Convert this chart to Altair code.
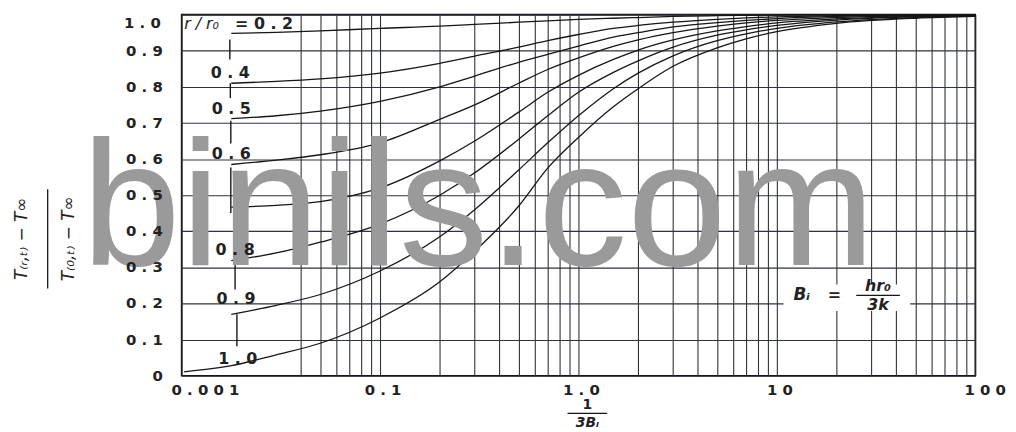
import altair as alt
import pandas as pd

# ---------------- values ----------------
# x is 1/(3 Bi) on a log axis, y is the temperature ratio
X_START = [0.0178, 0.03, 0.05, 0.1, 0.2, 0.3, 0.5, 0.7, 1.0, 1.5, 2.0, 3.0, 5.0, 7.0, 10.0, 20.0, 50.0, 100.0]
X_EDGE = [0.0103, 0.0178, 0.03, 0.05, 0.1, 0.2, 0.3, 0.5, 0.7, 1.0, 1.5, 2.0, 3.0, 5.0, 7.0, 10.0, 20.0, 50.0, 100.0]

R_02 = [0.948, 0.951, 0.955, 0.962, 0.968, 0.973, 0.979, 0.983, 0.987, 0.990, 0.992, 0.995, 0.997, 0.998, 0.999, 1.0, 1.0, 1.0]
R_04 = [0.810, 0.815, 0.822, 0.838, 0.865, 0.885, 0.910, 0.928, 0.945, 0.962, 0.970, 0.979, 0.987, 0.991, 0.994, 0.997, 0.999, 1.0]
R_05 = [0.712, 0.720, 0.733, 0.760, 0.800, 0.830, 0.868, 0.890, 0.913, 0.938, 0.950, 0.966, 0.978, 0.984, 0.989, 0.995, 0.998, 0.999]
R_06 = [0.585, 0.597, 0.612, 0.645, 0.710, 0.750, 0.810, 0.848, 0.880, 0.912, 0.930, 0.950, 0.968, 0.977, 0.984, 0.992, 0.997, 0.999]
R_07 = [0.467, 0.472, 0.482, 0.520, 0.595, 0.650, 0.730, 0.785, 0.832, 0.876, 0.902, 0.930, 0.955, 0.967, 0.977, 0.988, 0.995, 0.998]
R_08 = [0.319, 0.340, 0.370, 0.420, 0.500, 0.562, 0.655, 0.720, 0.785, 0.840, 0.872, 0.910, 0.943, 0.958, 0.970, 0.985, 0.994, 0.997]
R_09 = [0.170, 0.195, 0.225, 0.290, 0.385, 0.460, 0.570, 0.645, 0.720, 0.795, 0.838, 0.886, 0.928, 0.947, 0.962, 0.980, 0.992, 0.996]
R_10 = [0.011, 0.028, 0.058, 0.090, 0.160, 0.260, 0.345, 0.470, 0.575, 0.660, 0.745, 0.795, 0.857, 0.908, 0.933, 0.953, 0.976, 0.990, 0.995]

SERIES_NAMES = ["0.2", "0.4", "0.5", "0.6", "0.7", "0.8", "0.9", "1.0"]
SERIES_X = [X_START, X_START, X_START, X_START, X_START, X_START, X_START, X_EDGE]
SERIES_Y = [R_02, R_04, R_05, R_06, R_07, R_08, R_09, R_10]

X_GRID = [0.01, 0.04, 0.05, 0.06, 0.07, 0.08, 0.09,
          0.1, 0.2, 0.3, 0.4, 0.5, 0.6, 0.7, 0.8, 0.9,
          1, 2, 3, 4, 5, 6, 7, 8, 9,
          10, 20, 30, 40, 50, 60, 70, 80, 90, 100]
X_TICKS = [0.01, 0.1, 1, 10, 100]
X_TICK_LABELS = ["0.001", "0.1", "1.0", "10", "100"]
Y_TICKS = [0, 0.1, 0.2, 0.3, 0.4, 0.5, 0.6, 0.7, 0.8, 0.9, 1.0]
Y_TICK_LABELS = ["0", "0.1", "0.2", "0.3", "0.4", "0.5", "0.6", "0.7", "0.8", "0.9", "1.0"]

CURVE_LABELS = ["0.4", "0.5", "0.6", "0.8", "0.9", "1.0"]
CURVE_LABEL_X = [0.0176, 0.0178, 0.0178, 0.0186, 0.0188, 0.0192]
CURVE_LABEL_Y = [0.838, 0.739, 0.613, 0.349, 0.212, 0.047]

LEADER_X = [0.0175, 0.0176, 0.0177, 0.0177, 0.0186, 0.0190]
LEADER_Y1 = [0.931, 0.810, 0.706, 0.577, 0.319, 0.170]
LEADER_Y2 = [0.876, 0.769, 0.643, 0.451, 0.239, 0.082]

MASK_X = [10.8, 47.0]
MASK_Y = [0.179, 0.253]

TOP_LABEL_R = "r / r\u2080"
TOP_LABEL_V = "= 0.2"
TOP_LABEL_X = [0.0103, 0.0186]
TOP_LABEL_Y = 0.975

WATERMARK = "binils.com"

# ---------------- helpers ----------------
def spaced(s, sp=" "):
    return sp.join(list(s))

rows = []
for name, xs, ys in zip(SERIES_NAMES, SERIES_X, SERIES_Y):
    for xv, yv in zip(xs, ys):
        rows.append({"r": name, "x": xv, "y": yv})
curves_df = pd.DataFrame(rows)

FONT = "DejaVu Sans"
GRID_COLOR = "#2e323c"
INK = "#161616"
LABEL_INK = "#222222"

x_scale = alt.Scale(type="log", domain=[0.01, 100], nice=False)
y_scale = alt.Scale(domain=[0, 1], nice=False, zero=False)

x_axis = alt.Axis(values=X_GRID, labels=False, title=None, grid=True, ticks=False, domain=False,
                  gridColor=GRID_COLOR, gridWidth=1.1, gridOpacity=1)
y_axis = alt.Axis(values=Y_TICKS, labels=False, title=None, grid=True, ticks=False, domain=False,
                  gridColor=GRID_COLOR, gridWidth=1.1, gridOpacity=1)


def X(field="x"):
    return alt.X(f"{field}:Q", scale=x_scale, axis=x_axis)


def Y(field="y"):
    return alt.Y(f"{field}:Q", scale=y_scale, axis=y_axis)


curves = alt.Chart(curves_df).mark_line(
    color=INK, strokeWidth=1.3, interpolate="monotone"
).encode(x=X(), y=Y(), detail="r:N")

mask = alt.Chart(pd.DataFrame({"x": [MASK_X[0]], "x2": [MASK_X[1]],
                               "y": [MASK_Y[0]], "y2": [MASK_Y[1]]})).mark_rect(
    fill="white"
).encode(x=X(), x2="x2:Q", y=Y(), y2="y2:Q")

leaders = alt.Chart(pd.DataFrame({"x": LEADER_X, "y": LEADER_Y1, "y2": LEADER_Y2})).mark_rule(
    color=INK, strokeWidth=1.4
).encode(x=X(), y=Y(), y2="y2:Q")

labels_df = pd.DataFrame({"x": CURVE_LABEL_X, "y": CURVE_LABEL_Y,
                          "t": [spaced(s) for s in CURVE_LABELS]})
curve_labels = alt.Chart(labels_df).mark_text(
    font=FONT, fontSize=16, fontWeight="bold", color=LABEL_INK, align="center", baseline="middle"
).encode(x=X(), y=Y(), text="t:N")

top_r = alt.Chart(pd.DataFrame({"x": [TOP_LABEL_X[0]], "y": [TOP_LABEL_Y], "t": [TOP_LABEL_R]})).mark_text(
    font=FONT, fontSize=16, fontStyle="italic", color=LABEL_INK, align="left", baseline="middle"
).encode(x=X(), y=Y(), text="t:N")
top_v = alt.Chart(pd.DataFrame({"x": [TOP_LABEL_X[1]], "y": [TOP_LABEL_Y],
                                "t": ["= " + spaced("0.2")]})).mark_text(
    font=FONT, fontSize=16, fontWeight="bold", color=LABEL_INK, align="left", baseline="middle"
).encode(x=X(), y=Y(), text="t:N")

# axis tick labels (drawn as text so they can follow the reference's placement)
xl_df = pd.DataFrame({"x": X_TICKS, "t": [spaced(s) for s in X_TICK_LABELS]})
x_lab_style = dict(font=FONT, fontSize=15, fontWeight="bold", color=LABEL_INK, baseline="middle")
x_first = alt.Chart(xl_df.iloc[[0]]).mark_text(align="center", dx=24, **x_lab_style).encode(
    x=X(), y=alt.value(378), text="t:N")
x_mid = alt.Chart(xl_df.iloc[1:4]).mark_text(align="center", dx=3, **x_lab_style).encode(
    x=X(), y=alt.value(378), text="t:N")
x_last = alt.Chart(xl_df.iloc[[4]]).mark_text(align="center", dx=10, **x_lab_style).encode(
    x=X(), y=alt.value(378), text="t:N")

yl_df = pd.DataFrame({"y": Y_TICKS, "t": [spaced(s) for s in Y_TICK_LABELS]})
y_lab_style = dict(font=FONT, fontSize=15, fontWeight="bold", color=LABEL_INK, align="right")
y_low = alt.Chart(yl_df.iloc[:-1]).mark_text(baseline="middle", **y_lab_style).encode(
    x=alt.value(-19), y=Y(), text="t:N")
y_top = alt.Chart(yl_df.iloc[[-1]]).mark_text(baseline="top", dy=1, **y_lab_style).encode(
    x=alt.value(-21), y=Y(), text="t:N")


def ptext(txt, x, y, **kw):
    style = dict(font=FONT, fontSize=14, color=LABEL_INK, align="center", baseline="middle")
    style.update(kw)
    return alt.Chart(pd.DataFrame({"t": [txt]})).mark_text(**style).encode(
        x=alt.value(x), y=alt.value(y), text="t:N")


def hrule(x1, x2, y, w=1.3):
    return alt.Chart(pd.DataFrame({"t": [0]})).mark_rule(color=INK, strokeWidth=w).encode(
        x=alt.value(x1), x2=alt.value(x2), y=alt.value(y))


def vrule(x, y1, y2, w=1.3):
    return alt.Chart(pd.DataFrame({"t": [0]})).mark_rule(color=INK, strokeWidth=w).encode(
        x=alt.value(x), y=alt.value(y1), y2=alt.value(y2))


# y-axis title (fraction, rotated)
y_num = ptext("T\u208d\u1d63,\u209c\u208e \u2212 T\u221e", -161, 226, angle=270, fontStyle="italic", fontSize=17)
y_bar = vrule(-135, 176, 276)
y_den = ptext("T\u208d\u2080,\u209c\u208e \u2212 T\u221e", -113, 226, angle=270, fontStyle="italic", fontSize=17)

# x-axis title (fraction)
x_num = ptext("1", 409, 394, fontWeight="bold", fontSize=14)
x_bar = hrule(389, 429, 402)
x_den = ptext("3B\u1d62", 409, 412, fontStyle="italic", fontWeight="bold", fontSize=14)

# Biot number annotation
bi_lhs = ptext("B\u1d62", 625, 283, fontStyle="italic", fontSize=17, fontWeight="bold")
bi_eq = ptext("=", 658, 283, fontSize=16, fontWeight="bold")
bi_num = ptext("hr\u2080", 702, 274, fontStyle="italic", fontSize=16, fontWeight="bold")
bi_bar = hrule(680, 724, 283)
bi_den = ptext("3k", 702, 293, fontStyle="italic", fontSize=16, fontWeight="bold")

watermark = ptext(WATERMARK, -101, 252, font="Liberation Sans", fontSize=180,
                  color="#9a9a9a", align="left", baseline="alphabetic")

chart = alt.layer(
    curves, mask, leaders,
    y_num, y_bar, y_den, x_num, x_bar, x_den,
    bi_lhs, bi_eq, bi_num, bi_bar, bi_den,
    watermark,
    curve_labels, top_r, top_v,
    x_first, x_mid, x_last, y_low, y_top,
).properties(
    width=800, height=364,
    padding={"left": 175, "top": 5, "right": 33, "bottom": 55},
    autosize="none",
    background="white",
).configure_view(
    stroke="#111", strokeWidth=1.6
)

chart.save("out.html", embed_options={"renderer": "svg", "actions": False})
